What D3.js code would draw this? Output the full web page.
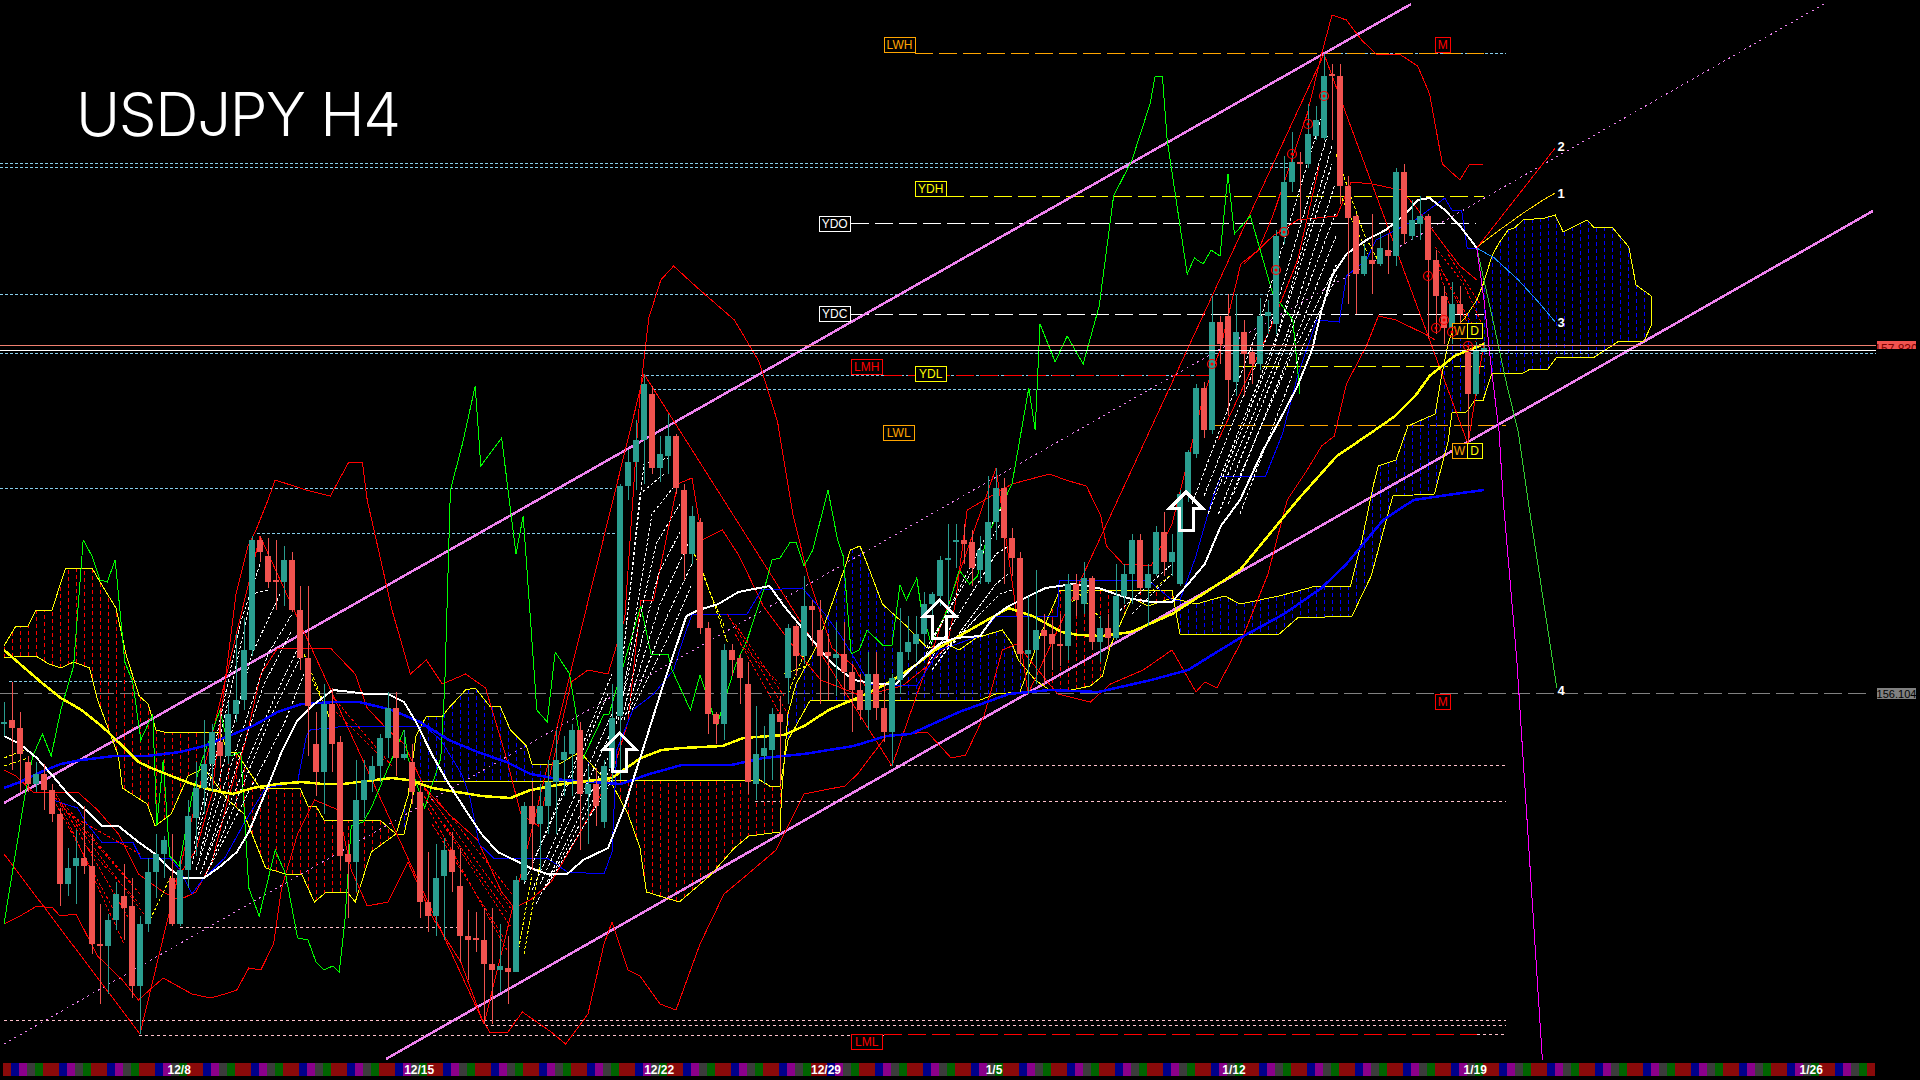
<!DOCTYPE html>
<html><head><meta charset="utf-8">
<script src="https://cdn.jsdelivr.net/npm/d3@7/dist/d3.min.js"></script>
<style>html,body{margin:0;padding:0;background:#000;overflow:hidden}svg{display:block}</style>
</head><body><svg id="c" width="1920" height="1080"></svg>
<script>
const opens=[155.95,155.97,155.93,155.76,155.65,155.70,155.62,155.50,155.15,155.24,155.28,155.24,154.85,154.84,154.97,155.09,155.04,154.64,154.95,155.21,155.30,155.18,154.95,155.22,155.48,155.63,155.75,155.86,155.79,156.00,156.07,156.32,156.87,156.79,156.67,156.66,156.77,156.52,156.28,155.85,155.71,156.05,155.86,155.30,155.26,155.57,155.67,155.74,155.88,156.03,155.78,155.76,155.61,155.06,154.99,155.19,155.32,155.14,154.89,154.88,154.87,154.75,154.72,154.73,154.71,155.17,155.54,155.45,155.54,155.66,155.77,155.80,155.92,155.60,155.65,155.46,155.73,155.99,
157.14,157.26,157.37,157.60,157.23,157.29,157.39,157.12,156.80,156.96,156.43,156.00,155.95,156.32,156.28,156.15,155.65,155.79,155.82,156.00,156.18,156.44,156.29,156.54,156.42,156.31,156.28,156.30,156.21,156.12,156.02,156.20,156.03,155.91,156.17,156.31,156.35,156.40,156.55,156.59,156.77,156.86,156.87,156.86,156.72,156.66,156.96,157.13,156.88,156.78,156.30,156.32,156.42,156.40,156.35,156.34,156.65,156.55,156.68,156.36,156.43,156.38,156.59,156.70,156.87,156.63,156.70,156.91,156.76,156.65,157.10,157.30,157.63,157.42,157.96,157.99,157.66,157.91,157.81,157.75,157.99,157.95,158.39,158.66,158.76,158.75,158.89,158.88,159.20,159.19,158.64,158.49,158.20,158.27,158.25,158.32,158.29,158.71,158.39,158.45,158.49,158.27,158.09,157.93,158.05,157.81,157.60,157.81];
const highs=[156.06,156.16,156.01,155.79,155.76,155.75,155.65,155.53,155.33,155.42,155.54,155.40,155.05,155.00,155.16,155.25,155.18,154.99,155.28,155.40,155.39,155.40,155.28,155.57,155.76,155.97,155.95,156.03,156.06,156.40,156.48,156.89,156.89,156.88,156.87,156.84,156.81,156.64,156.64,156.01,156.15,156.13,155.89,155.35,155.77,155.77,155.79,155.90,156.11,156.11,155.92,155.85,155.65,155.31,155.35,155.38,155.41,155.33,155.02,155.01,155.03,155.03,154.95,154.89,155.19,155.56,155.66,155.65,155.77,155.92,155.89,155.95,155.96,155.74,155.73,155.77,156.15,157.15,
157.32,157.47,157.70,157.64,157.39,157.50,157.40,157.15,157.04,156.98,156.46,156.01,156.35,156.35,156.30,156.26,156.04,155.94,156.03,156.09,156.45,156.45,156.69,156.57,156.57,156.40,156.46,156.46,156.25,156.20,156.31,156.31,156.15,156.20,156.53,156.49,156.49,156.61,156.61,156.79,156.95,156.95,156.95,156.92,156.89,157.19,157.23,157.18,156.93,156.81,156.59,156.72,156.50,156.47,156.50,156.70,156.70,156.76,156.69,156.49,156.50,156.75,156.75,156.90,156.90,156.75,156.94,157.01,156.90,157.12,157.32,157.65,157.66,158.09,157.99,158.10,158.10,157.97,157.83,158.08,158.07,158.42,158.79,158.91,158.81,159.05,159.04,159.30,159.25,159.25,158.69,158.50,158.35,158.50,158.40,158.40,158.73,158.75,158.57,158.59,158.50,158.32,158.14,158.16,158.14,157.84,157.86,157.86];
const lows=[155.89,155.72,155.61,155.61,155.61,155.52,155.46,155.04,155.09,155.05,155.20,154.80,154.55,154.60,154.92,154.87,154.58,154.40,154.91,155.08,155.18,154.94,154.94,155.13,155.29,155.50,155.61,155.74,155.75,155.96,156.02,156.29,156.76,156.63,156.52,156.54,156.51,156.22,155.79,155.59,155.50,155.71,155.22,154.98,155.11,155.48,155.61,155.66,155.78,155.69,155.77,155.55,154.98,154.91,154.89,154.87,155.11,154.76,154.67,154.81,154.45,154.45,154.61,154.55,154.71,155.16,155.22,155.22,155.40,155.40,155.59,155.59,155.32,155.35,155.44,155.43,155.66,155.67,
157.07,157.12,157.15,157.20,157.16,157.20,157.10,156.67,156.75,156.40,155.90,155.85,155.87,156.19,156.05,155.60,155.57,155.65,155.67,155.65,156.05,156.19,156.25,156.34,156.05,156.07,156.09,156.09,155.91,155.97,155.92,155.97,155.86,155.74,156.10,156.27,156.26,156.35,156.49,156.54,156.50,156.73,156.75,156.64,156.65,156.65,156.87,156.65,156.69,156.25,156.10,156.15,156.15,156.22,156.24,156.27,156.49,156.50,156.32,156.26,156.32,156.37,156.55,156.55,156.61,156.44,156.69,156.69,156.69,156.64,157.06,157.28,157.38,157.40,157.75,157.49,157.59,157.59,157.65,157.72,157.90,157.90,158.35,158.61,158.46,158.73,158.87,158.87,158.87,158.55,158.05,158.00,158.19,158.10,158.24,158.20,158.24,158.35,158.37,158.37,157.88,157.90,157.85,157.85,157.92,157.35,157.59,157.81];
const closes=[155.96,155.93,155.80,155.65,155.70,155.62,155.50,155.15,155.23,155.28,155.24,154.85,154.84,154.97,155.10,155.03,154.64,154.95,155.21,155.30,155.37,154.95,155.22,155.49,155.63,155.75,155.91,155.79,156.00,156.07,156.32,156.87,156.81,156.66,156.66,156.77,156.52,156.28,156.04,155.71,156.05,155.85,155.29,155.26,155.57,155.67,155.74,155.88,156.03,155.78,155.80,155.61,155.06,154.99,155.18,155.32,155.21,154.89,154.87,154.87,154.75,154.72,154.74,154.71,155.17,155.54,155.45,155.54,155.66,155.77,155.81,155.92,155.60,155.65,155.54,155.74,155.98,157.14,
157.26,157.37,157.65,157.23,157.30,157.39,157.13,156.80,156.99,156.43,156.00,155.95,156.32,156.27,156.18,155.66,155.80,155.83,156.00,155.96,156.43,156.29,156.54,156.52,156.29,156.29,156.30,156.21,156.12,156.02,156.20,156.03,155.91,156.18,156.31,156.36,156.40,156.55,156.60,156.77,156.78,156.87,156.85,156.73,156.82,156.96,157.13,156.88,156.78,156.30,156.32,156.42,156.39,156.35,156.34,156.65,156.57,156.68,156.36,156.43,156.38,156.59,156.70,156.87,156.63,156.70,156.91,156.76,156.81,157.10,157.31,157.63,157.42,157.96,157.85,157.67,157.91,157.80,157.75,157.99,158.01,158.39,158.66,158.76,158.75,158.90,158.97,159.19,159.19,158.64,158.48,158.20,158.29,158.25,158.33,158.29,158.71,158.40,158.47,158.49,158.27,158.09,157.93,158.05,158.00,157.60,157.82,157.83];

const spanA=[[0,156.28],[2.6,156.29],[4,156.29],[5.6,156.25],[7.1,156.23],[8.7,156.26],[10.7,156.23],[11.7,156.07],[14.3,155.79],[14.8,155.63],[17.9,155.55],[18.9,155.44],[20.9,155.50],[23,155.69],[25,155.73],[28,155.57],[30,155.50],[31,155.40],[32.7,155.23],[35.2,155.20],[37.2,155.20],[38.8,155.06],[40.3,155.11],[42.9,155.11],[43.9,155.06],[45.9,155.31],[49,155.40],[50.5,155.59],[51.5,155.89],[52.8,155.99],[54.8,155.99],[55.6,156.03],[57.7,156.12],[58.9,156.13],[60.7,156.04],[62,156.04],[63.3,155.92],[65.3,155.84],[66,155.75],[69.4,155.75],[72,155.81],[74.5,155.70],[76,155.65],[78,155.50],[79.5,155.33],[80.3,155.11],[84.4,155.06],[88.2,155.19],[91.3,155.33],[93.1,155.39],[97,155.41],[97.2,155.60],[98,156.00],[99,156.15],[101.6,156.34],[105,156.72],[105.8,156.82],[107,156.84],[108,156.74],[109.8,156.55],[112.8,156.44],[115.4,156.33],[117.9,156.35],[119.4,156.32],[121.5,156.38],[124.8,156.42],[126,156.35],[126.8,156.27],[128.9,156.17],[130.7,156.12],[132.2,156.11],[135.8,156.14],[137.3,156.19],[138.3,156.34],[141,156.58],[143,156.54],[146,156.58],[149,156.55],[152.6,156.59],[154.5,156.55],[159.4,156.59],[164,156.64],[168.3,156.64],[169.8,156.88],[171.2,157.15],[171.8,157.24],[174,157.27],[175.5,157.44],[178.9,157.50],[179.7,157.69],[180.5,157.85],[181,157.91],[182.6,157.98],[184.1,158.07],[184.9,158.15],[186,158.29],[186.8,158.35],[188,158.42],[188.8,158.43],[189.9,158.47],[192.6,158.48],[193.9,158.495],[194.9,158.41],[196.6,158.445],[197.9,158.47],[198.8,158.43],[201,158.435],[203.1,158.335],[204,158.145],[205.9,158.09],[206,157.95]];
const spanB=[[0,156.34],[1.5,156.44],[3,156.44],[4,156.52],[6,156.52],[7.7,156.73],[11,156.73],[12.3,156.64],[14,156.53],[15.3,156.29],[16.9,156.09],[18,156.05],[19,155.92],[20,155.91],[27,155.91],[28,155.81],[29,155.81],[31,155.69],[32,155.63],[37,155.63],[38,155.54],[39,155.54],[40,155.47],[47,155.47],[49,155.40],[50,155.40],[51.5,155.66],[94.5,155.67],[95.7,155.64],[97,155.64],[98,155.87],[100.8,156.07],[122,156.07],[124,156.10],[127,156.11],[129.6,156.40],[132,156.62],[146,156.62],[147,156.40],[159.4,156.40],[161.7,156.48],[168.5,156.49],[170.9,156.69],[173.6,157.09],[178.8,157.10],[180.5,157.36],[181,157.505],[182.8,157.51],[183.9,157.57],[184.9,157.57],[185.8,157.68],[186,157.705],[189.9,157.705],[190.8,157.725],[193,157.725],[194.1,157.785],[198.8,157.785],[201.9,157.865],[205,157.865],[206,157.95]];

const whiteMa=[[0,155.89],[2,155.85],[4.1,155.78],[6.1,155.69],[8.2,155.59],[10.2,155.52],[12.3,155.44],[14.3,155.44],[16.8,155.36],[18.9,155.30],[20.9,155.22],[22.5,155.18],[25,155.18],[27.1,155.24],[29.1,155.31],[30.6,155.41],[32.7,155.61],[34.7,155.81],[36.7,155.97],[38.8,156.05],[41.1,156.12],[43.4,156.11],[45.4,156.10],[48,156.10],[50,156.06],[51.5,155.96],[53.6,155.79],[55.6,155.65],[57.7,155.52],[59.7,155.40],[61.7,155.31],[63.8,155.27],[65.8,155.23],[67.9,155.20],[70.4,155.20],[72.4,155.27],[75.5,155.33],[77.6,155.54],[79.6,155.79],[82.2,156.12],[83.7,156.30],[85.3,156.49],[86.8,156.52],[89.3,156.55],[91.8,156.61],[95.7,156.64],[97.5,156.54],[100.6,156.39],[103.6,156.25],[106.2,156.17],[109.2,156.15],[111.5,156.15],[113.8,156.24],[116.9,156.35],[118.9,156.38],[122,156.39],[123.8,156.49],[125.6,156.54],[128.1,156.59],[130.2,156.63],[133.7,156.65],[136.8,156.63],[140.4,156.58],[143.4,156.56],[146,156.56],[148,156.65],[150.1,156.75],[152.1,156.94],[154.5,157.07],[157.4,157.32],[159.2,157.45],[161.7,157.64],[163.5,157.82],[164.7,158.02],[166,158.19],[167.8,158.30],[170.3,158.37],[172.7,158.42],[175.2,158.50],[176.7,158.57],[178.2,158.58],[180.1,158.52],[182,158.44],[184.1,158.33]];
const yellowMa=[[0,156.32],[2,156.25],[4.6,156.16],[7.1,156.08],[9.7,156.02],[12.2,155.94],[14.8,155.84],[16.8,155.76],[18.4,155.73],[20.9,155.69],[23.5,155.65],[26,155.62],[28.6,155.60],[31.1,155.63],[34.2,155.65],[37.2,155.66],[39.8,155.65],[42.4,155.65],[44.4,155.66],[48.5,155.68],[50.5,155.67],[53.6,155.63],[56.6,155.61],[59.7,155.59],[63.3,155.58],[65.8,155.62],[69.9,155.65],[76,155.68],[79.6,155.78],[82.2,155.82],[84.7,155.83],[89.8,155.84],[92.4,155.88],[97.5,155.895],[100,155.94],[103.1,156.02],[107.2,156.09],[110.3,156.15],[113.8,156.24],[116.4,156.32],[119.4,156.39],[122.9,156.47],[125.6,156.53],[128.6,156.49],[132.2,156.41],[134.3,156.395],[137.3,156.39],[140.9,156.41],[146,156.50],[149.5,156.59],[154.5,156.72],[161.7,157.07],[166.6,157.29],[170.3,157.39],[173.9,157.49],[176.4,157.59],[178.2,157.69],[181.3,157.79],[185,157.85]];
const blueMa=[[0,155.63],[2,155.66],[4.6,155.71],[7.1,155.75],[9.7,155.77],[13.8,155.79],[17.9,155.79],[22,155.81],[25,155.84],[28.1,155.89],[31.1,155.94],[34.2,156.01],[37.2,156.05],[41.3,156.06],[44.4,156.06],[48.5,156.02],[52,155.96],[55.6,155.87],[59.2,155.81],[62.8,155.76],[65.8,155.70],[69.9,155.67],[77.1,155.65],[80.7,155.70],[84.7,155.745],[90.9,155.745],[94.9,155.78],[100,155.80],[106.2,155.84],[110.3,155.89],[113.3,155.90],[119.4,156.01],[125.6,156.10],[130.7,156.12],[136.8,156.11],[143.4,156.17],[148,156.22],[151,156.295],[154.5,156.38],[160,156.50],[164.7,156.63],[167.8,156.75],[172.4,156.97],[176.2,157.07],[181.3,157.10],[185,157.12]];
const kijun=[[6.1,155.57],[9.2,155.53],[10.2,155.46],[12.2,155.36],[16.1,155.36],[17.1,155.28],[20.7,155.28],[22,155.22],[23.5,155.10],[25,155.18],[27.6,155.28],[30.1,155.46],[32.7,155.63],[36.7,155.66],[37.8,155.89],[38.3,155.92],[42.9,155.94],[52.6,155.94],[54.6,155.87],[57.2,155.70],[58.2,155.59],[59.4,155.35],[61.2,155.28],[67.9,155.28],[70.4,155.21],[75,155.20],[76,155.31],[76.6,155.82],[78.6,156.02],[81.2,156.10],[83.7,156.22],[84.7,156.35],[86,156.50],[92.9,156.50],[94.7,156.62],[99.8,156.63],[102.6,156.50],[104.6,156.39],[107.2,156.22],[108.2,156.15],[114.1,156.14],[116.9,156.32],[122,156.39],[124,156.49],[131.7,156.49],[131.9,156.67],[143,156.67],[146,156.57],[147,156.57],[149,156.79],[151,157.07],[152.1,157.19],[157.7,157.19],[159.8,157.40],[161.7,157.69],[164.1,157.97],[166.9,157.96],[167.8,158.19],[170.3,158.27],[171.5,158.37],[176.4,158.47],[180.1,158.58],[181,158.52],[182.2,158.52],[182.9,158.33],[184.1,158.33]];
const zigzag=[[0,155.30],[17,154.40],[32,156.89],[60,154.45],[80,157.70],[111,155.74],[124,157.23],[128,156.10],[165,159.30],[183,157.35],[185,157.86]];
const bandUpper=[[21,155.14],[24,155.32],[26,155.60],[27.6,156.15],[29,156.60],[30.5,156.84],[31.5,156.92],[33,157.07],[33.9,157.17],[37.75,157.12],[40.8,157.09],[43.1,157.26],[44.8,157.26],[45.4,157.07],[48.5,156.52],[50.8,156.20],[52.8,156.27],[54.8,156.15],[57.7,156.20],[60.2,156.13],[62.8,155.78],[64.6,155.50],[66.8,155.44],[68.9,155.81],[70.9,156.16],[73,156.22],[75.5,156.20],[77.6,156.48],[79.5,157.60],[80.6,157.98],[82.1,158.17],[83.7,158.24],[86.7,158.13],[91.3,157.97],[94.4,157.76],[96.7,157.46],[98.6,157.00],[100.5,156.69],[103.5,156.33],[106.2,156.24],[108.2,156.10],[112.3,156.14],[115.4,156.24],[117.9,156.34],[118.9,156.55],[120.4,157.02],[126,157.15],[130.7,157.20],[132.7,157.17],[135.3,157.14],[137.1,156.99],[137.8,156.84],[139.9,156.75],[143.4,156.74],[146,156.95],[148,157.27],[150,157.60],[152,157.82],[154.6,158.25],[156.8,158.32],[158.6,158.49],[162.9,159.00],[164.7,159.30],[166,159.495],[167.8,159.47],[169.7,159.37],[171.5,159.30],[174.6,159.295],[176.7,159.24],[178.2,159.10],[179.8,158.75],[182,158.67],[183.2,158.75],[184.9,158.75]];
const bandLower=[[0,154.95],[2,154.99],[4.1,155.04],[6.1,155.03],[7,154.99],[9,155.00],[11.7,154.79],[14.8,154.67],[16.8,154.57],[19.9,154.68],[23.5,154.60],[25.8,154.58],[27.6,154.60],[29.1,154.62],[30.6,154.73],[32.1,154.72],[33.7,154.85],[34.7,155.13],[36.7,155.40],[38.8,155.57],[41.8,155.52],[43.4,155.22],[45.4,155.04],[48,155.06],[50.5,155.26],[51.5,155.17],[53.6,154.98],[57.1,154.76],[59.7,154.48],[60.7,154.41],[63,154.41],[64.8,154.51],[68.4,154.41],[70.2,154.35],[73,154.50],[75,154.85],[76,154.96],[78,154.72],[79.5,154.69],[82,154.55],[84,154.52],[87,154.85],[90,155.10],[93,155.20],[96.5,155.32],[100,155.60],[105.1,155.64],[106.7,155.70],[110.3,155.89],[112.8,155.90],[115.4,155.91],[118.4,155.78],[120.2,155.795],[122.5,155.99],[124.8,156.32],[126.6,156.35],[131.7,156.10],[135.8,156.06],[138.3,156.15],[142.4,156.22],[146,156.32],[149,156.11],[150.1,156.16],[151.6,156.13],[154.5,156.35],[158,156.70],[160.4,157.07],[162.9,157.22],[164.7,157.34],[166.3,157.39],[167.8,157.65],[170.3,157.84],[171.8,157.99],[174,157.97],[177.6,157.90],[178.9,157.87]];
const bandMiddle=[[0,155.72],[1.5,155.69],[3.6,155.61],[9.2,155.61],[11.7,155.52],[14.3,155.40],[16.8,155.20],[19.9,155.11],[21.9,155.07],[24,155.11],[26,155.26],[28.1,155.59],[30.1,155.85],[32.1,156.20],[34.2,156.33],[37.8,156.33],[40.8,156.33],[43.9,156.20],[45.4,156.03],[48,155.92],[50,155.85],[52.6,155.63],[55.6,155.50],[59.2,155.37],[62.2,155.11],[63.8,155.03],[65.8,155.07],[68.4,155.16],[71.9,155.40],[74.5,155.59],[76,155.70],[78,155.96],[79.6,156.57],[81.2,156.57],[84.2,157.15],[86,157.18],[87.3,156.87],[89.8,156.92],[91.9,156.79],[94.9,156.54],[99,156.32],[102.1,156.17],[107.2,156.09]];
const redInner=[[155,158.25],[158.6,158.39],[161.7,158.47],[166.6,158.49],[168.4,158.66],[171,158.65],[174.6,158.62],[176.4,158.54],[179.5,158.37],[182,158.24],[184.1,158.17]];
const redRise=[[151.8,157.37],[158,157.90],[161.7,158.27],[164.4,158.74]];
const greenOsc=[[0,154.95],[2.6,155.59],[3.6,155.79],[4.8,155.90],[5.9,155.79],[7.1,156.02],[8.7,156.24],[9.9,156.87],[11,156.79],[12,156.67],[12.9,156.66],[13.9,156.77],[15.1,156.26],[16.1,156.16],[17.1,155.87],[18.6,156.00],[19.1,155.44],[19.9,155.77],[20.7,155.29],[21.9,155.24],[23.5,155.59],[24.5,155.74],[27,156.02],[28.3,155.79],[29.6,155.81],[30.6,155.13],[31.9,154.99],[33.9,155.32],[35.2,155.20],[36.7,154.88],[38,154.87],[39,154.76],[40,154.72],[41.1,154.74],[41.9,154.71],[42.6,154.96],[43.4,155.44],[44.9,155.46],[45.9,155.53],[50,155.92],[50.5,155.78],[52.6,155.53],[54.6,155.78],[55.1,156.15],[55.8,157.12],[57.3,157.35],[58.9,157.64],[59.6,157.24],[62.2,157.38],[64,156.80],[64.9,156.99],[66.6,156.02],[67.9,155.96],[68.9,156.31],[70.7,156.20],[72.4,155.78],[75,156.00],[75.6,155.995],[79.6,156.54],[80.9,156.295],[83,156.30],[83.5,156.22],[85.8,156.02],[87,156.195],[89.1,155.94],[91.4,156.24],[92.9,156.37],[95.2,156.65],[96,156.77],[97,156.78],[98.3,156.86],[99,156.86],[100,156.74],[101.1,156.82],[103,157.12],[104.2,156.87],[104.9,156.79],[105.9,156.30],[106.9,156.32],[107.9,156.42],[109.8,156.345],[111,156.345],[112,156.645],[112.8,156.57],[114.1,156.68],[114.6,156.54],[115.9,156.35],[117.9,156.52],[119.4,156.72],[120.7,156.65],[121.7,156.69],[122.9,156.89],[126,157.15],[128.1,157.63],[128.9,157.42],[129.5,157.95],[131.4,157.76],[132.9,157.89],[134.9,157.75],[136.9,158.04],[138.7,158.59],[141,158.77],[143.25,159.05],[143.9,159.19],[144.8,159.19],[145.4,158.87],[147.9,158.20],[148.8,158.28],[149.9,158.25],[150.9,158.32],[152,158.29],[153,158.70],[153.8,158.40],[155.8,158.49],[158.6,158.10],[159.8,158.04],[161.1,157.97],[162,157.60]];

const whiteRibbons=[
 [[23.5,155.25],[31,156.60],[33,156.62]],[[24,155.22],[33,156.30],[36,156.50]],[[24.5,155.20],[34,156.10],[37,156.35]],[[25,155.18],[35,155.95],[37.5,156.20]],
 [[23.8,155.35],[29.5,156.45],[32,156.75]],[[24.5,155.30],[31,156.30],[34.5,156.60]],[[25,155.25],[32.5,156.15],[36,156.42]],[[25.5,155.22],[33.5,156.00],[37,156.28]],
 [[65,155.15],[76,156.20]],[[66,155.12],[76,156.00]],[[66.5,155.05],[76,155.82]],[[68,155.15],[76.5,155.70]],
 [[65.5,155.20],[75.5,156.10]],[[67,155.15],[76,155.92]],[[67.5,155.12],[76.5,155.78]],
 [[76.5,155.95],[79.5,157.10],[82.5,157.20]],[[76.8,155.97],[81.5,156.85],[84.5,157.05]],[[77.5,155.97],[82,156.55],[85.5,156.85]],[[78,156.00],[83,156.50],[86,156.75]],
 [[76.6,156.00],[80,157.25],[83,157.28]],[[77,156.00],[81,157.00],[84,157.15]],[[77.2,155.97],[81.8,156.70],[85,156.95]],[[78.5,156.02],[83.5,156.42],[86,156.65]],
 [[115,156.28],[123.5,156.95],[125,157.05]],[[115.5,156.25],[124,156.80],[126,156.85]],[[116,156.22],[124,156.65],[125.5,156.70]],
 [[115.3,156.33],[123,156.85],[125,156.98]],[[116.5,156.28],[124.5,156.60],[126,156.62]],[[117,156.28],[122,156.50]],
 [[139,156.50],[146,156.75]],[[141,156.50],[146,156.70]],
 [[150,157.09],[158,157.90],[165.4,158.89]],[[151.2,157.10],[159.2,157.90],[166,158.84]],[[152.5,157.15],[160.4,157.90],[166.3,158.64]],[[153.7,157.10],[161.7,157.90],[166.6,158.40]],
 [[148.5,157.05],[156.5,157.90],[164.8,159.00]],[[150.5,157.00],[158.5,157.80],[166,158.75]],[[151.8,157.00],[159.8,157.80],[166.4,158.50]],[[153,157.05],[161,157.80],[166.6,158.25]],[[154.5,157.00],[162.5,157.85],[166.7,158.20]]];
const redRibbons=[
 [[6,155.60],[17,155.10]],[[6.5,155.60],[16,154.95]],[[7,155.55],[15,154.85]],[[8,155.50],[17,155.30]],
 [[6.5,155.55],[14,155.00]],[[7.5,155.55],[16,155.15]],[[9,155.45],[17.5,155.00]],[[10,155.35],[17,155.05]],
 [[41,156.09],[48.5,155.74]],[[41,156.03],[47.5,155.77]],
 [[52.5,155.63],[63.3,155.03]],[[52.5,155.59],[63.3,154.94]],[[53,155.53],[63,154.81]],
 [[54,155.58],[63.5,155.10]],[[53.5,155.45],[62.5,154.88]],[[55,155.45],[63,155.00]],
 [[90.4,156.50],[98,156.00]],[[91.4,156.45],[97.5,156.09]],[[91.4,156.40],[97,156.00]],[[92,156.35],[97,156.15]],
 [[178.9,158.335],[182.4,158.155],[184.9,157.935]],[[179.1,158.27],[182.4,158.00],[184.1,157.85]],[[179.3,158.23],[182,157.87]],[[180,158.20],[183.5,157.95]],[[180.5,158.30],[184.5,158.05]]];
const yellowRibbons=[
 [[37.5,156.30],[41,155.95]],[[38,156.22],[40.5,156.00]],[[86.3,156.80],[90,156.44]],[[87,156.75],[90.5,156.35]],
 [[166.5,158.80],[170,158.40],[172,158.25]],[[167,158.60],[170.5,158.30]],
 [[18,154.95],[21,155.20]],[[64,154.75],[66,155.20]],[[65,154.80],[67,155.25]],
 [[0,155.78],[2.5,155.82]],[[0,155.74],[3,155.78]],[[97.5,156.20],[101,156.25]],[[98,156.10],[100,156.30]],[[133,156.55],[136,156.62]],[[134,156.62],[137,156.48]],[[143,156.60],[146,156.70]]];

const project1=[[184.1,158.335],[186.6,158.41],[189.9,158.505],[192.4,158.57],[193.9,158.605]];
const project2=[[184.1,158.33],[193.9,158.83]];
const project3=[[184.1,158.33],[186.3,158.28],[189.3,158.17],[191.8,158.06],[193.9,157.96]];
const project4=[[184.1,158.33],[186.3,157.935],[187.8,157.655],[189.3,157.405],[190.5,157.07],[194.1,156.13]];
const projectDown=[[184.1,158.33],[185,158.07],[185.9,157.735],[186.9,157.405],[187.4,157.07],[189.1,156.27],[192.3,154.27]];
const projectNames=["1","2","3","4"];
const projectPrices=[158.605,158.84,157.96,156.12];

const channelUpper=[[0,155.555],[175.9,159.55]];
const channelLower=[[47.75,154.275],[233.6,158.515]];
const channelMiddle=[[0,154.35],[227.5,159.55]];

const cyanPrices=[158.755,158.735,158.10,157.805,157.695,157.625,157.13,156.905,156.165,159.305];
const cyanFrom=[-0.5,-0.5,-0.5,-0.5,79.6,81.1,-0.5,31.6,0.6,165.1];
const cyanTo=[160.75,160.75,158.6,234,150.6,147,76,76.5,28.25,187.75];
const pinkPrices=[154.935,154.47,154.445,154.395,155.745,155.565,154.40];
const pinkFrom=[22,0,60.1,16.9,110.75,93.9,184.1];
const pinkTo=[56.6,187.75,187.75,110,187.75,187.75,187.75];
const dashNames=["LWH","YDH","YDO","YDC","YDL","LMH","LWL","LML","GREY"];
const dashPrices=[159.305,158.59,158.455,158.0,157.74,157.695,157.445,154.4,156.104];
const dashFrom=[113.9,117.75,105.9,105.9,154.25,110,151.25,110,-0.5];
const dashTo=[185,185,184,185,185,150.6,187.75,184.1,233.5];
const dashColors=["#ffa500","#ffff00","#ffffff","#ffffff","#ffff00","#ff0000","#ffa500","#ff0000","#808080"];
const lastPriceAsk=157.845, lastPriceBid=157.82;

const boxText=["LWH","M","YDH","YDO","YDC","LMH","YDL","LWL","W","D","W","D","M","LML"];
const boxBar=[110,178.9,113.9,101.9,101.9,105.9,113.9,109.9,181,182.9,181,182.9,178.9,105.9];
const boxPrice=[159.385,159.385,158.665,158.49,158.04,157.775,157.74,157.445,157.955,157.955,157.355,157.355,156.10,154.40];
const boxColor=["#ffa500","#ff0000","#ffff00","#ffffff","#ffffff","#ff0000","#ffff00","#ffa500","#ffa500","#ffff00","#ffa500","#ffff00","#ff0000","#ff0000"];

const circleBars=[165,163,161,160,159,151,178,179,180,181,183];
const circlePrices=[159.09,158.95,158.80,158.41,158.22,157.75,158.19,157.93,157.97,157.91,157.84];
const arrowBars=[76.9,116.9,147.75];
const arrowPrices=[155.905,156.57,157.11];

const dateLabels=["12/8","12/15","12/22","12/29","1/5","1/12","1/19","1/26"];
const dateBars=[21.9,51.9,81.9,102.75,123.75,153.75,183.9,225.9];
const sessionColors=["#8a0a0a","#00008a","#8a008a","#3c3c3c","#006400","#8a0a0a"];
const sessionCount=234;

const x=d3.scaleLinear().domain([0,185]).range([4,1484]);
const y=d3.scaleLinear().domain([159.57,154.17]).range([0,1080]);
const svg=d3.select("#c").attr("shape-rendering","crispEdges");
svg.append("rect").attr("width",1920).attr("height",1080).attr("fill","#000");
const line=d3.line().x(d=>x(d[0])).y(d=>y(d[1]));
function path(pts,color,w,dash){const p=svg.append("path").attr("d",line(pts)).attr("fill","none").attr("stroke",color).attr("stroke-width",w||1);if(dash)p.attr("stroke-dasharray",dash);return p;}

cyanPrices.forEach((p,k)=>path([[cyanFrom[k],p],[cyanTo[k],p]],"#87ceeb",1,"3,2"));
pinkPrices.forEach((p,k)=>path([[pinkFrom[k],p],[pinkTo[k],p]],"#ffc0cb",1,"3,3"));
dashPrices.forEach((p,k)=>path([[dashFrom[k],p],[dashTo[k],p]],dashColors[k],1,"18,6"));

svg.append("g").selectAll("rect").data(d3.range(sessionCount)).join("rect")
  .attr("x",d=>x(d-0.125)).attr("y",1063).attr("width",8).attr("height",13)
  .attr("fill",d=>sessionColors[d%6]);
svg.append("g").selectAll("text").data(dateLabels).join("text")
  .attr("x",(d,k)=>x(dateBars[k])).attr("y",1074).attr("text-anchor","middle")
  .attr("font-family","Liberation Sans").attr("font-weight","bold").attr("font-size",12).attr("fill","#fff").text(d=>d);

const fa=d3.scaleLinear().domain(spanA.map(d=>d[0])).range(spanA.map(d=>d[1]));
const fb=d3.scaleLinear().domain(spanB.map(d=>d[0])).range(spanB.map(d=>d[1]));
svg.append("g").selectAll("line").data(d3.range(0,207)).join("line")
  .attr("x1",d=>x(d)).attr("x2",d=>x(d)).attr("y1",d=>y(fa(d))).attr("y2",d=>y(fb(d)))
  .attr("stroke",d=>fa(d)>=fb(d)?"#0000ff":"#ff0000").attr("stroke-width",1).attr("stroke-dasharray","4,3");

path(channelMiddle,"#ee82ee",1,"2,4");
path(channelUpper,"#ee82ee",2.5);
path(channelLower,"#ee82ee",2.5);

path(spanA,"#ffff00");path(spanB,"#ffff00");
[bandUpper,bandLower,bandMiddle,redInner,redRise,zigzag].forEach(s=>path(s,"#ff0000"));
path(kijun,"#0000ff");
path(greenOsc,"#00ff00");
redRibbons.forEach(s=>path(s,"#ff0000",1,"3,2"));
yellowRibbons.forEach(s=>path(s,"#ffff00",1,"3,2"));
whiteRibbons.forEach(s=>path(s,"#ffffff",1,"3,2"));

path(blueMa,"#0000ff",2.5);
path(yellowMa,"#ffff00",2.5);
path(whiteMa,"#ffffff",2);

path(project1,"#ffd700");path(project2,"#ff0000");path(project3,"#1e90ff");path(project4,"#32cd32");path(projectDown,"#ff00ff",1);
svg.append("g").selectAll("text").data(projectNames).join("text")
  .attr("x",x(194.65)).attr("y",(d,k)=>y(projectPrices[k])+5).attr("text-anchor","middle")
  .attr("font-family","Liberation Sans").attr("font-weight","bold").attr("font-size",13).attr("fill","#fff").text(d=>d);

const up="#2a9d8f",dn="#f0524f";
const bars=svg.append("g").selectAll("g").data(d3.range(opens.length)).join("g");
bars.append("line").attr("x1",d=>x(d)).attr("x2",d=>x(d)).attr("y1",d=>y(highs[d])).attr("y2",d=>y(lows[d]))
  .attr("stroke",d=>closes[d]>=opens[d]?up:dn).attr("stroke-width",1);
bars.append("rect").attr("x",d=>x(d)-3).attr("width",6)
  .attr("y",d=>y(Math.max(opens[d],closes[d]))).attr("height",d=>Math.max(2,Math.abs(y(opens[d])-y(closes[d]))))
  .attr("fill",d=>closes[d]>=opens[d]?up:dn);

const boxes=svg.append("g").selectAll("g").data(boxText).join("g")
  .attr("transform",(d,k)=>`translate(${x(boxBar[k])},${y(boxPrice[k])})`);
const boxW=d=>d.length>1?31:15;
boxes.append("rect").attr("width",boxW).attr("height",15).attr("fill","#000").attr("stroke",(d,k)=>boxColor[k]);
boxes.append("text").attr("x",d=>boxW(d)/2).attr("y",12).attr("text-anchor","middle")
  .attr("font-family","Liberation Sans").attr("font-size",12).attr("fill",(d,k)=>boxColor[k]).text(d=>d);

path([[-0.5,lastPriceAsk],[234,lastPriceAsk]],"#f08070");
path([[-0.5,lastPriceBid],[234,lastPriceBid]],"#ffffff");
const rl=svg.append("g");
rl.append("rect").attr("x",1877).attr("y",341).attr("width",39).attr("height",8).attr("fill","#f0524f");
rl.append("clipPath").attr("id","rc").append("rect").attr("x",1877).attr("y",341).attr("width",39).attr("height",8);
rl.append("text").attr("clip-path","url(#rc)").attr("x",1896).attr("y",353).attr("text-anchor","middle").attr("font-family","Liberation Sans").attr("font-size",12).attr("fill","#7a0000").text("157.830");
rl.append("rect").attr("x",1877).attr("y",688).attr("width",39).attr("height",11).attr("fill","#808080");
rl.append("text").attr("x",1896.5).attr("y",698).attr("text-anchor","middle").attr("font-family","Liberation Sans").attr("font-size",11).attr("fill","#000").text("156.104");

const cg=svg.append("g").attr("shape-rendering","auto");
cg.selectAll("circle.o").data(circleBars).join("circle").attr("class","o").attr("cx",d=>x(d)).attr("cy",(d,k)=>y(circlePrices[k])).attr("r",4.5).attr("fill","none").attr("stroke","#ff0000").attr("stroke-width",1.2);
cg.selectAll("circle.p").data(circleBars).join("circle").attr("class","p").attr("cx",d=>x(d)).attr("cy",(d,k)=>y(circlePrices[k])).attr("r",1.5).attr("fill","#ff0000");

const arrow=[[0,0],[16,16],[7,16],[7,38],[-7,38],[-7,16],[-16,16]];
svg.append("g").selectAll("path").data(arrowBars).join("path")
 .attr("transform",(d,k)=>`translate(${x(d)},${y(arrowPrices[k])})`)
 .attr("d","M"+arrow.join("L")+"Z").attr("fill","none").attr("stroke","#fff").attr("stroke-width",3);

svg.append("text").attr("x",76).attr("y",136).attr("font-family","Inter").attr("font-weight",300).attr("font-size",60).attr("textLength",325).attr("lengthAdjust","spacing").attr("fill","#fff").text("USDJPY H4");
</script></body></html>
